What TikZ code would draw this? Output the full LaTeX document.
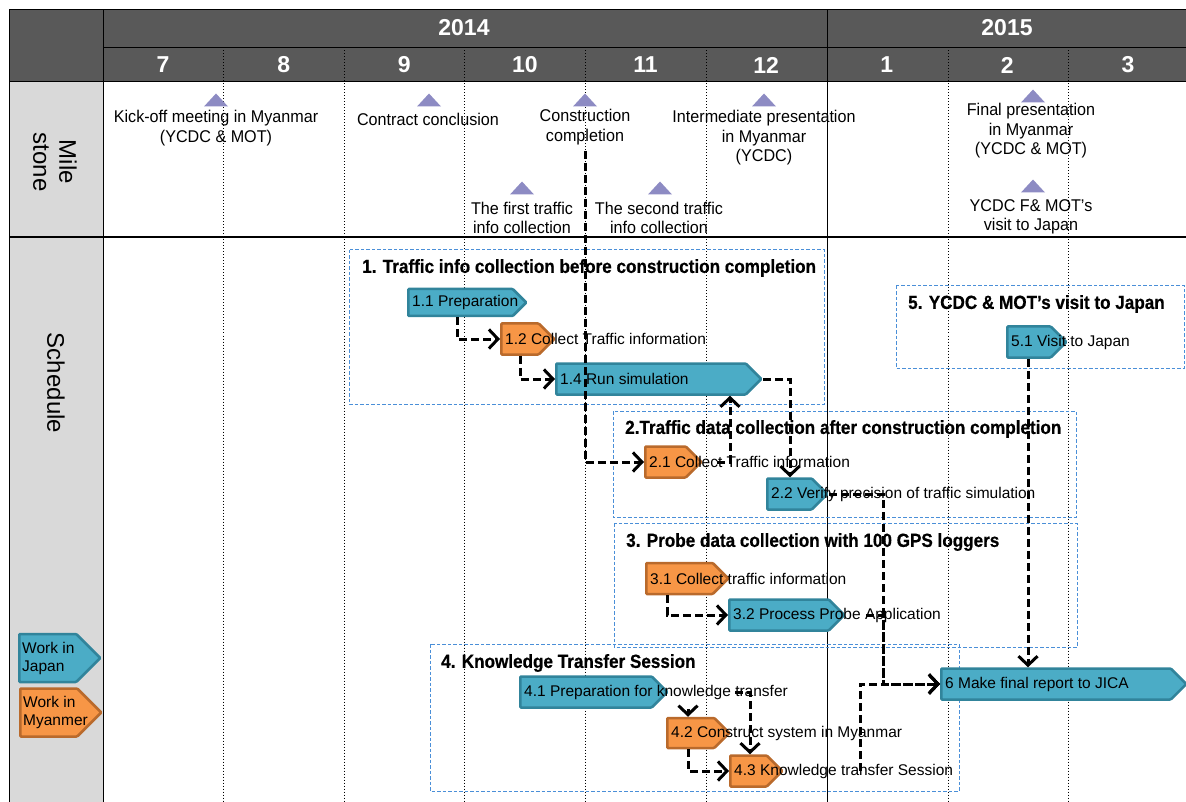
\documentclass[tikz,border=0pt]{standalone}
\usepackage{fontspec}
\setmainfont{Liberation Sans}
\newfontfamily\msfont[FakeStretch=0.95]{Liberation Sans}
\newfontfamily\grpfont[FakeStretch=0.9, BoldFeatures={FakeBold=0.6}]{Liberation Sans}
\usetikzlibrary{arrows.meta, positioning, shapes.symbols}
\definecolor{hdrgray}{HTML}{595959}
\definecolor{colgray}{HTML}{D9D9D9}
\definecolor{jpfill}{HTML}{4BACC6}
\definecolor{jpline}{HTML}{31849B}
\definecolor{mmfill}{HTML}{F79646}
\definecolor{mmline}{HTML}{B96A2C}
\definecolor{grpline}{HTML}{4A8FD8}
\definecolor{mscol}{HTML}{8D8BC3}
\tikzset{%
	taskbox/.style={
		signal,
		signal to=east,
		signal pointer angle=90,
		line width=2.5pt,
		rounded corners=1pt,
		inner sep=0pt,
		anchor=west
	},
	jpbox/.style={taskbox, fill=jpfill, draw=jpline},
	mmbox/.style={taskbox, fill=mmfill, draw=mmline},
	tasklbl/.style={anchor=west, inner sep=0pt, xshift=5pt, font=\fontsize{15.5}{18}\selectfont},
	group/.style={draw=grpline, dash pattern=on 3.5pt off 2pt, line width=1pt},
	grptitle/.style={anchor=west, inner sep=0pt, font=\grpfont\bfseries\fontsize{19}{22}\selectfont},
	mstext/.style={align=center, inner sep=0pt, font=\msfont\fontsize{17}{19.5}\selectfont},
	hdr/.style={text=white, font=\bfseries\fontsize{23}{26}\selectfont},
	sidelbl/.style={rotate=-90, align=center, font=\fontsize{24}{26}\selectfont},
	dep/.style={line width=3pt, dash pattern=on 8pt off 4pt, -{Straight Barb[length=9pt,width=19pt]}},
	monthline/.style={line width=0.9pt, dash pattern=on 1pt off 2pt}
}
\begin{document}
\begin{tikzpicture}[x=1pt, y=-1pt]
			\useasboundingbox (0,0) rectangle (1186,802);
			
			% Table frame
			\fill[hdrgray] (9,9.5) rectangle (1186,82);
			\fill[colgray] (9,82) rectangle (103,802);
			\foreach \x in {223,344,464,585,706,948,1068}
				\draw[monthline] (\x,47.5) -- (\x,802);
			\draw[line width=0.8pt] (827,9.5) -- (827,802);
			\draw[line width=1pt] (9,9.5) -- (1186,9.5);
			\draw[line width=1pt] (103,47.5) -- (1186,47.5);
			\draw[line width=1pt] (9,82) -- (1186,82);
			\draw[line width=1.2pt] (9,237) -- (1186,237);
			\draw[line width=1pt] (9,9.5) -- (9,802);
			\draw[line width=1pt] (103,9.5) -- (103,802);
			
			% Years and months
			\node[hdr] (y2014) at (464,28) {2014};
			\node[hdr] (y2015) at (1007,28) {2015};
			\foreach \m [count=\i] in {7,8,9,10,11,12,1,2,3}
				\node[hdr] (mon\i) at (42.5+120.6*\i,65) {\m};
			
			% Row labels
			\node[sidelbl] (lblMile) at (55,162) {Mile\\stone};
			\node[sidelbl] (lblSched) at (56,383) {Schedule};
			
			% Milestones
			\foreach \x/\y in {216/100, 429/100, 585/100, 764/100, 522/188, 660/188, 1033/96, 1033/186}
				\fill[mscol] (\x-12,\y+6.5) -- (\x,\y-6.5) -- (\x+12,\y+6.5) -- cycle;
			\node[mstext] (mKick) at (216,128) {Kick-off meeting in Myanmar\\(YCDC \& MOT)};
			\node[mstext] (mCtr) at (428,119) {Contract conclusion};
			\node[mstext] (mCon) at (585,127) {Construction\\completion};
			\node[mstext] (mInt) at (764,138) {Intermediate presentation\\in Myanmar\\(YCDC)};
			\node[mstext] (mFirst) at (522,218) {The first traffic\\info collection};
			\node[mstext] (mSecond) at (659,218) {The second traffic\\info collection};
			\node[mstext] (mFinal) at (1031,131) {Final presentation\\in Myanmar\\(YCDC \& MOT)};
			\node[mstext] (mVisit) at (1031,217) {YCDC F\& MOT’s\\visit to Japan};
			
			% Groups
			\draw[group] (349,250) rectangle (824,404);
			\node[grptitle] (g1) at (362,268) {1. Traffic info collection before construction completion};
			\draw[group] (896,286) rectangle (1184,368);
			\node[grptitle] (g5) at (908,304) {5. YCDC \& MOT’s visit to Japan};
			\draw[group] (613,411) rectangle (1076,517);
			\node[grptitle] (g2) at (625,429) {2.Traffic data collection after construction completion};
			\draw[group] (614,523) rectangle (1077,647);
			\node[grptitle] (g3) at (626,542) {3. Probe data collection with 100 GPS loggers};
			\draw[group] (430,644) rectangle (959,791);
			\node[grptitle] (g4) at (441,663) {4. Knowledge Transfer Session};
			
			% Tasks
			\node[jpbox, minimum width=118pt, minimum height=27pt] (t11) at (407,302.5) {};
			\node[mmbox, minimum width=53pt, minimum height=31pt] (t12) at (500,339) {};
			\node[jpbox, minimum width=205pt, minimum height=31pt] (t14) at (555,379) {};
			\node[mmbox, minimum width=56pt, minimum height=31pt] (t21) at (644,462) {};
			\node[jpbox, minimum width=60pt, minimum height=31pt] (t22) at (766,494) {};
			\node[mmbox, minimum width=82pt, minimum height=31pt] (t31) at (645,578.5) {};
			\node[jpbox, minimum width=115pt, minimum height=31pt] (t32) at (728,615) {};
			\node[jpbox, minimum width=147pt, minimum height=31pt] (t41) at (519,692) {};
			\node[mmbox, minimum width=62pt, minimum height=30pt] (t42) at (666,733) {};
			\node[mmbox, minimum width=52pt, minimum height=31pt] (t43) at (729,771) {};
			\node[jpbox, minimum width=59pt, minimum height=31pt] (t51) at (1006,342) {};
			\node[jpbox, minimum width=245pt, minimum height=31pt] (t6) at (940,684) {};
			
			% Legend
			\node[jpbox, minimum width=81pt, minimum height=48pt] (legJp) at (18,658) {};
			\node[mmbox, minimum width=81pt, minimum height=48pt] (legMm) at (19,712.5) {};
			\node[tasklbl, align=left, xshift=-1pt] at (legJp.west) {Work in\\Japan};
			\node[tasklbl, align=left, xshift=-1pt] at (legMm.west) {Work in\\Myanmer};
			
			% Links
			\coordinate (c21) at ([xshift=73pt]t21.west);
			\coordinate (c32) at ([xshift=20pt]t32.east);
			\coordinate (c41) at ([xshift=216pt]t41.west);
			\coordinate (c43) at ([xshift=131pt]t43.west);
			\coordinate (jn6) at ([xshift=-57pt]t6.west);
			\draw[dep] ([xshift=50pt]t11.south west) |- (t12.west);
			\draw[dep] ([xshift=20pt]t12.south west) |- (t14.west);
			\draw[dep] (mCon.south) ++(0,6) |- (t21.west);
			\draw[dep] (c21) -| ([xshift=175pt]t14.south west);
			\draw[dep] (t14.east) -| ([xshift=24pt]t22.north west);
			\draw[dep] (t22.east) -| (jn6) -- (t6.west);
			\draw[dep] (c32) -| (jn6) -- (t6.west);
			\draw[dep] (c43) |- (t6.west);
			\draw[dep] ([xshift=22pt]t51.south west) -- ([xshift=88pt]t6.north west);
			\draw[dep] ([xshift=22pt]t31.south west) |- (t32.west);
			\draw[dep] ([xshift=169pt]t41.south west) -- ([xshift=22pt]t42.north west);
			\draw[dep] ([xshift=22pt]t42.south west) |- (t43.west);
			\draw[dep] (c41) -| ([xshift=21pt]t43.north west);
			
			% Task labels
			\node[tasklbl] (l11) at (t11.west) {1.1 Preparation};
			\node[tasklbl] (l12) at (t12.west) {1.2 Collect Traffic information};
			\node[tasklbl] (l14) at (t14.west) {1.4 Run simulation};
			\node[tasklbl] (l21) at (t21.west) {2.1 Collect Traffic information};
			\node[tasklbl] (l22) at (t22.west) {2.2 Verify precision of traffic simulation};
			\node[tasklbl] (l31) at (t31.west) {3.1 Collect traffic information};
			\node[tasklbl] (l32) at (t32.west) {3.2 Process Probe Application};
			\node[tasklbl] (l41) at (t41.west) {4.1 Preparation for knowledge transfer};
			\node[tasklbl] (l42) at (t42.west) {4.2 Construct system in Myanmar};
			\node[tasklbl] (l43) at (t43.west) {4.3 Knowledge transfer Session};
			\node[tasklbl] (l51) at (t51.west) {5.1 Visit to Japan};
			\node[tasklbl] (l6) at (t6.west) {6 Make final report to JICA};
			
		\end{tikzpicture}
\end{document}
